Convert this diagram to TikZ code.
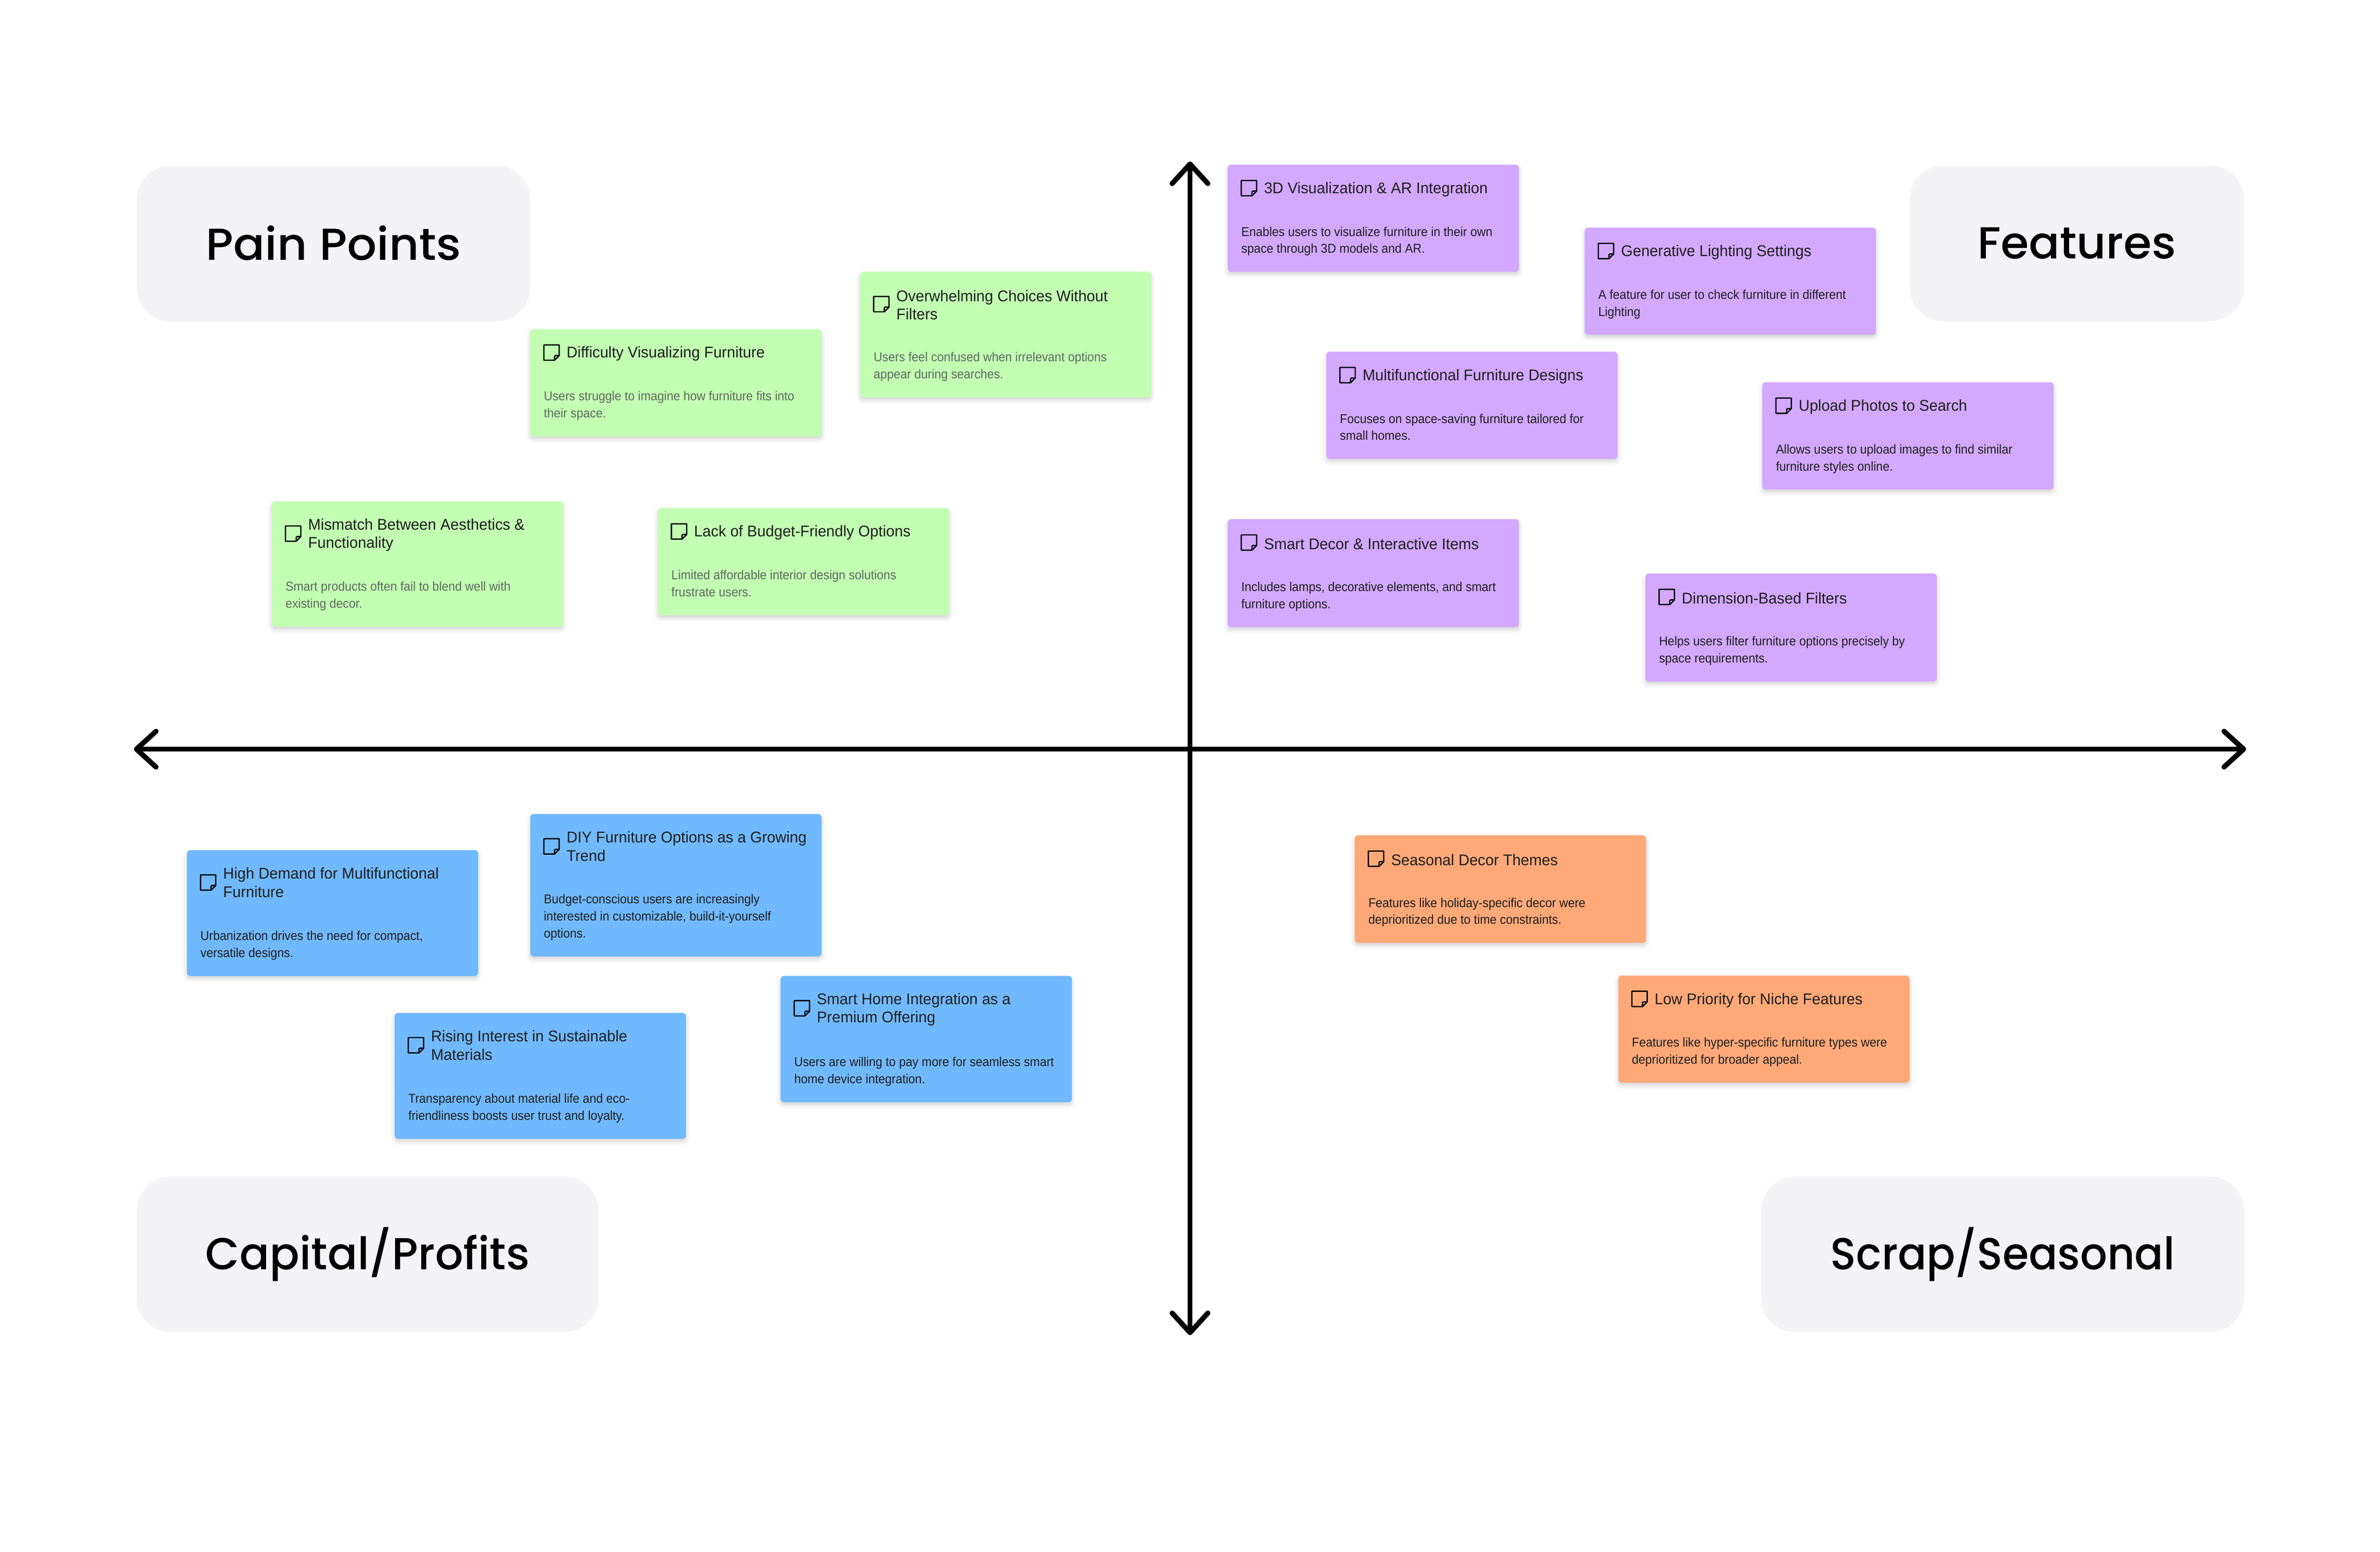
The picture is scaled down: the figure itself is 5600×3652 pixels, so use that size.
\documentclass[tikz,border=0pt]{standalone}
\usepackage{xcolor}
\usepackage{fontspec}
\setmainfont{Liberation Sans}
\newfontfamily\quadfont{Poppins Medium}
\newfontfamily\bodyfont[FakeStretch=0.935]{Liberation Sans}
\newfontfamily\titlefont[FakeStretch=0.975]{Liberation Sans}
\usetikzlibrary{positioning,arrows.meta,shadows.blur}
\definecolor{notegreen}{HTML}{C2FFB3}
\definecolor{notepurple}{HTML}{D3A8FF}
\definecolor{noteblue}{HTML}{70B9FF}
\definecolor{noteorange}{HTML}{FFA978}
\definecolor{quadgrey}{HTML}{F4F4F6}
\definecolor{inkdark}{HTML}{1E1E1E}
\definecolor{inkgrey}{HTML}{5F6A5E}

\begin{document}
\begin{tikzpicture}[
    x=0.01cm,y=-0.01cm,
    quadrant/.style={rectangle,fill=quadgrey,rounded corners=0.8cm,anchor=north west,minimum height=3.66cm,inner sep=0pt,font=\quadfont\fontsize{30}{36}\selectfont,text=black},
    sticky/.style={rectangle,rounded corners=0.08cm,anchor=north west,minimum width=6.85cm,inner sep=0pt,
        blur shadow={shadow xshift=0cm,shadow yshift=-0.06cm,shadow blur radius=0.10cm,shadow blur steps=6,shadow opacity=18}},
    noteicon/.style={rectangle,minimum size=0.40cm,inner sep=0pt,path picture={
        \draw[shift={(path picture bounding box.center)},line width=0.03cm,line join=round]
            (-18,-18) -- (18,-18) -- (18,7) -- (7,18) -- (-18,18) -- cycle
            (18,7) -- (9,7) -- (7,9) -- (7,18);}},
    notetitle/.style={inner sep=0pt,align=left,text=inkdark,font=\titlefont\fontsize{10.4}{12.23}\selectfont},
    notebody/.style={inner sep=0pt,align=left,text=inkdark,font=\bodyfont\fontsize{8.6}{11.38}\selectfont,execute at end node=\strut},
    greybody/.style={notebody,text=inkgrey},
    axis/.style={line width=0.12cm,line cap=round,{Straight Barb[length=0.46cm,width=0.84cm,round]}-{Straight Barb[length=0.46cm,width=0.84cm,round]}}
]
    \useasboundingbox (0,0) rectangle (5600,3652);

    % Quadrant names
    \node[quadrant,minimum width=9.26cm] (pain) at (321,389) {\addfontfeature{FakeStretch=1.035}\raisebox{0.03cm}{Pain Points}};
    \node[quadrant,minimum width=7.87cm] (features) at (4492,389) {\addfontfeature{FakeStretch=1.015}Features};
    \node[quadrant,minimum width=10.86cm] (capital) at (321,2768) {\addfontfeature{FakeStretch=0.985}Capital/Profits};
    \node[quadrant,minimum width=11.36cm] (scrap) at (4143,2768) {\addfontfeature{FakeStretch=0.945}Scrap/Seasonal};

    % Axes
    \coordinate (ytop) at (2800,380);
    \coordinate (ybottom) at (2800,3142);
    \coordinate (xleft) at (315,1763);
    \coordinate (xright) at (5285,1763);
    \draw[axis] (ybottom) -- (ytop);
    \draw[axis] (xleft) -- (xright);

    % Pain points
    \node[sticky,fill=notegreen,minimum height=2.52cm] (difficulty) at (1247,774) {};
    \node[noteicon,below right=0.35cm and 0.30cm of difficulty.north west] (difficultyicon) {};
    \node[notetitle,right=0.14cm of difficultyicon,yshift=-0.03cm] (difficultytitle) {Difficulty Visualizing Furniture};
    \node[greybody,above right=0.32cm and 0.32cm of difficulty.south west] (difficultybody) {Users struggle to imagine how furniture fits into\\their space.};

    \node[sticky,fill=notegreen,minimum height=2.95cm] (overwhelming) at (2023,639) {};
    \node[noteicon,below right=0.56cm and 0.30cm of overwhelming.north west] (overwhelmingicon) {};
    \node[notetitle,right=0.14cm of overwhelmingicon,yshift=-0.02cm] (overwhelmingtitle) {Overwhelming Choices Without\\Filters};
    \node[greybody,above right=0.32cm and 0.32cm of overwhelming.south west] (overwhelmingbody) {Users feel confused when irrelevant options\\appear during searches.};

    \node[sticky,fill=notegreen,minimum height=2.95cm] (mismatch) at (639,1179) {};
    \node[noteicon,below right=0.56cm and 0.30cm of mismatch.north west] (mismatchicon) {};
    \node[notetitle,right=0.14cm of mismatchicon,yshift=-0.03cm] (mismatchtitle) {Mismatch Between Aesthetics \&\\Functionality};
    \node[greybody,above right=0.32cm and 0.32cm of mismatch.south west] (mismatchbody) {Smart products often fail to blend well with\\existing decor.};

    \node[sticky,fill=notegreen,minimum height=2.52cm] (budget) at (1547,1195) {};
    \node[noteicon,below right=0.35cm and 0.30cm of budget.north west] (budgeticon) {};
    \node[notetitle,right=0.14cm of budgeticon,yshift=-0.03cm] (budgettitle) {Lack of Budget-Friendly Options};
    \node[greybody,above right=0.32cm and 0.32cm of budget.south west] (budgetbody) {Limited affordable interior design solutions\\frustrate users.};

    % Features
    \node[sticky,fill=notepurple,minimum height=2.52cm] (visual) at (2888,387) {};
    \node[noteicon,below right=0.35cm and 0.30cm of visual.north west] (visualicon) {};
    \node[notetitle,right=0.14cm of visualicon,yshift=-0.03cm] (visualtitle) {3D Visualization \& AR Integration};
    \node[notebody,above right=0.32cm and 0.32cm of visual.south west] (visualbody) {Enables users to visualize furniture in their own\\space through 3D models and AR.};

    \node[sticky,fill=notepurple,minimum height=2.52cm] (lighting) at (3728,535) {};
    \node[noteicon,below right=0.35cm and 0.30cm of lighting.north west] (lightingicon) {};
    \node[notetitle,right=0.14cm of lightingicon,yshift=-0.03cm] (lightingtitle) {Generative Lighting Settings};
    \node[notebody,above right=0.32cm and 0.32cm of lighting.south west] (lightingbody) {A feature for user to check furniture in different\\Lighting};

    \node[sticky,fill=notepurple,minimum height=2.52cm] (designs) at (3120,827) {};
    \node[noteicon,below right=0.35cm and 0.30cm of designs.north west] (designsicon) {};
    \node[notetitle,right=0.14cm of designsicon,yshift=-0.03cm] (designstitle) {Multifunctional Furniture Designs};
    \node[notebody,above right=0.32cm and 0.32cm of designs.south west] (designsbody) {Focuses on space-saving furniture tailored for\\small homes.};

    \node[sticky,fill=notepurple,minimum height=2.52cm] (upload) at (4146,899) {};
    \node[noteicon,below right=0.35cm and 0.30cm of upload.north west] (uploadicon) {};
    \node[notetitle,right=0.14cm of uploadicon,yshift=-0.03cm] (uploadtitle) {Upload Photos to Search};
    \node[notebody,above right=0.32cm and 0.32cm of upload.south west] (uploadbody) {Allows users to upload images to find similar\\furniture styles online.};

    \node[sticky,fill=notepurple,minimum height=2.54cm] (decor) at (2888,1221) {};
    \node[noteicon,below right=0.35cm and 0.30cm of decor.north west] (decoricon) {};
    \node[notetitle,right=0.14cm of decoricon,yshift=-0.03cm] (decortitle) {Smart Decor \& Interactive Items};
    \node[notebody,above right=0.32cm and 0.32cm of decor.south west] (decorbody) {Includes lamps, decorative elements, and smart\\furniture options.};

    \node[sticky,fill=notepurple,minimum height=2.54cm] (dimension) at (3871,1349) {};
    \node[noteicon,below right=0.35cm and 0.30cm of dimension.north west] (dimensionicon) {};
    \node[notetitle,right=0.14cm of dimensionicon,yshift=-0.03cm] (dimensiontitle) {Dimension-Based Filters};
    \node[notebody,above right=0.32cm and 0.32cm of dimension.south west] (dimensionbody) {Helps users filter furniture options precisely by\\space requirements.};

    % Capital and profits
    \node[sticky,fill=noteblue,minimum height=2.96cm] (demand) at (439,2000) {};
    \node[noteicon,below right=0.56cm and 0.30cm of demand.north west] (demandicon) {};
    \node[notetitle,right=0.14cm of demandicon] (demandtitle) {High Demand for Multifunctional\\Furniture};
    \node[notebody,above right=0.32cm and 0.32cm of demand.south west] (demandbody) {Urbanization drives the need for compact,\\versatile designs.};

    \node[sticky,fill=noteblue,minimum height=3.35cm] (diy) at (1247,1915) {};
    \node[noteicon,below right=0.56cm and 0.30cm of diy.north west] (diyicon) {};
    \node[notetitle,right=0.14cm of diyicon] (diytitle) {DIY Furniture Options as a Growing\\Trend};
    \node[notebody,above right=0.32cm and 0.32cm of diy.south west] (diybody) {Budget-conscious users are increasingly\\interested in customizable, build-it-yourself\\options.};

    \node[sticky,fill=noteblue,minimum height=2.96cm] (rising) at (928,2383) {};
    \node[noteicon,below right=0.56cm and 0.30cm of rising.north west] (risingicon) {};
    \node[notetitle,right=0.14cm of risingicon] (risingtitle) {Rising Interest in Sustainable\\Materials};
    \node[notebody,above right=0.32cm and 0.32cm of rising.south west] (risingbody) {Transparency about material life and eco-\\friendliness boosts user trust and loyalty.};

    \node[sticky,fill=noteblue,minimum height=2.97cm] (home) at (1836,2296) {};
    \node[noteicon,below right=0.56cm and 0.30cm of home.north west] (homeicon) {};
    \node[notetitle,right=0.14cm of homeicon,yshift=-0.03cm] (hometitle) {Smart Home Integration as a\\Premium Offering};
    \node[notebody,above right=0.32cm and 0.32cm of home.south west] (homebody) {Users are willing to pay more for seamless smart\\home device integration.};

    % Scrap and seasonal
    \node[sticky,fill=noteorange,minimum height=2.53cm] (seasonal) at (3187,1965) {};
    \node[noteicon,below right=0.35cm and 0.30cm of seasonal.north west] (seasonalicon) {};
    \node[notetitle,right=0.14cm of seasonalicon,yshift=-0.03cm] (seasonaltitle) {Seasonal Decor Themes};
    \node[notebody,above right=0.32cm and 0.32cm of seasonal.south west] (seasonalbody) {Features like holiday-specific decor were\\deprioritized due to time constraints.};

    \node[sticky,fill=noteorange,minimum height=2.52cm] (niche) at (3807,2295) {};
    \node[noteicon,below right=0.35cm and 0.30cm of niche.north west] (nicheicon) {};
    \node[notetitle,right=0.14cm of nicheicon,yshift=-0.03cm] (nichetitle) {Low Priority for Niche Features};
    \node[notebody,above right=0.32cm and 0.32cm of niche.south west] (nichebody) {Features like hyper-specific furniture types were\\deprioritized for broader appeal.};
\end{tikzpicture}
\end{document}
